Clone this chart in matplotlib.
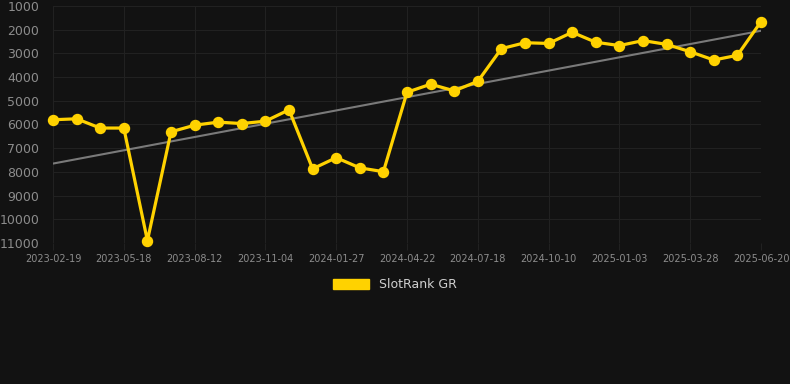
import numpy as np
import matplotlib
matplotlib.use("Agg")
import matplotlib.pyplot as plt
from matplotlib.patches import Patch

# rank values, one every ~4 weeks (category axis)
ranks = [5800, 5760, 6150, 6150, 10900, 6310, 6030, 5900, 5960, 5860,
         5380, 7870, 7400, 7830, 7990, 4640, 4300, 4580, 4180, 2800,
         2550, 2580, 2110, 2530, 2670, 2460, 2620, 2930, 3280, 3080, 1660]
tick_labels = ["2023-02-19", "2023-05-18", "2023-08-12", "2023-11-04",
               "2024-01-27", "2024-04-22", "2024-07-18", "2024-10-10",
               "2025-01-03", "2025-03-28", "2025-06-20"]
yticks = list(range(1000, 11001, 1000))
series_name = "SlotRank GR"

bg = "#121212"
yellow = "#FFD200"

x = np.arange(len(ranks))
slope, icpt = np.polyfit(x, ranks, 1)

fig = plt.figure(figsize=(7.9, 3.84), dpi=100, facecolor=bg)
ax = fig.add_axes([0.0671, 0.3672, 0.8962, 0.6172], facecolor=bg)

ax.plot(x, slope * x + icpt, color="#7a7a7a", lw=1.5, zorder=2)
ax.plot(x, ranks, color=yellow, lw=2.3, marker="o", ms=7.2,
        clip_on=False, zorder=3)

ax.set_xlim(0, len(ranks) - 1)
ax.set_ylim(11000, 1000)
ax.set_yticks(yticks)
ax.set_xticks(x[::3])
ax.set_xticklabels(tick_labels)

ax.grid(True, color="#212121", lw=0.8)
ax.set_axisbelow(True)
for s in ax.spines.values():
    s.set_visible(False)
ax.tick_params(axis="y", length=0, pad=10, labelsize=9, labelcolor="#8c8c8c")
ax.tick_params(axis="x", length=5, color="#212121", pad=3,
               labelsize=7, labelcolor="#8c8c8c")

leg = fig.legend(handles=[Patch(color=yellow, label=series_name)],
                 loc="center", bbox_to_anchor=(0.5, 0.258), frameon=False,
                 handlelength=2.9, handleheight=0.9, fontsize=9)
for t in leg.get_texts():
    t.set_color("#d0d0d0")

fig.savefig("out.png", dpi=100, facecolor=bg)
